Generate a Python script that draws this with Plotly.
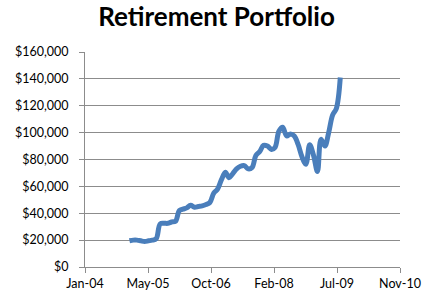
import pandas as pd
import plotly.graph_objects as go

# Monthly portfolio values (Jan 2005 - Aug 2009), in dollars
months = pd.date_range("2005-01-01", "2009-08-01", freq="MS").strftime("%Y-%m-%d").tolist()
values = [
    19500, 20000, 20000, 19500, 19000, 19500, 20000, 21000,
    32000, 32500, 32500, 33500, 34000, 42000, 43000, 44000,
    46000, 44500, 45000, 45500, 46500, 48000, 55000, 58000,
    65000, 70500, 66500, 69500, 73000, 75000, 75500, 73000,
    74000, 83000, 86000, 90500, 90000, 87500, 89000, 101000,
    104000, 97500, 99000, 97500, 91000, 82000, 76500, 91000,
    83000, 71000, 95000, 90000, 100000, 113000, 118000, 141000,
]

# Axis ticks (Excel date axis, major unit 500 days)
x_tick_dates = ["2004-01-14", "2005-05-28", "2006-10-10", "2008-02-22", "2009-07-06", "2010-11-18"]
x_tick_labels = ["Jan-04", "May-05", "Oct-06", "Feb-08", "Jul-09", "Nov-10"]
y_ticks = [0, 20000, 40000, 60000, 80000, 100000, 120000, 140000, 160000]
y_tick_labels = ["$0", "$20,000", "$40,000", "$60,000", "$80,000", "$100,000", "$120,000", "$140,000", "$160,000"]

fig = go.Figure()
fig.add_trace(go.Scatter(
    x=months, y=values, mode="lines",
    line=dict(color="#4A7EBB", width=5, shape="spline", smoothing=1),
    hoverinfo="skip",
))

grid = "#8C8C8C"
fig.update_layout(
    width=433, height=305,
    margin=dict(l=85, r=31, t=52, b=38),
    paper_bgcolor="white", plot_bgcolor="white",
    showlegend=False,
    title=dict(text="<b>Retirement Portfolio</b>", x=0.5, xanchor="center",
               y=1 - 17 / 305, yanchor="middle",
               font=dict(family="Lato", size=26, color="black")),
    font=dict(family="Lato", size=12.5, color="black"),
)
fig.update_xaxes(
    type="date", range=[x_tick_dates[0], x_tick_dates[-1]],
    tickmode="array", tickvals=x_tick_dates, ticktext=x_tick_labels,
    showgrid=False, zeroline=False,
    showline=True, linecolor=grid, linewidth=1,
    ticks="outside", ticklen=5, tickcolor=grid,
    tickfont=dict(family="Lato", size=12.5, color="black"),
)
fig.update_yaxes(
    range=[0, 160000],
    tickmode="array", tickvals=y_ticks, ticktext=y_tick_labels,
    showgrid=True, gridcolor=grid, gridwidth=1, zeroline=False,
    showline=True, linecolor=grid, linewidth=1,
    ticks="outside", ticklen=5, tickcolor=grid,
    ticklabelstandoff=8,
    tickfont=dict(family="Lato", size=12.5, color="black"),
)

fig.write_html("out.html")
